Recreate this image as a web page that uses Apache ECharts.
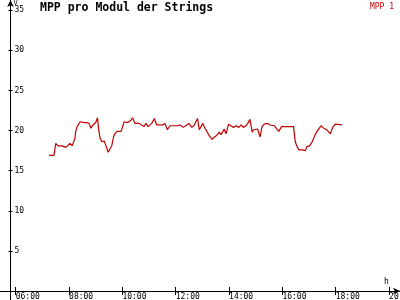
<!DOCTYPE html>
<html>
<head>
<meta charset="utf-8">
<script src="https://cdn.jsdelivr.net/npm/echarts@6/dist/echarts.min.js"></script>
<style>
html,body{margin:0;padding:0;background:#fff;}
#chart{width:400px;height:300px;}
</style>
</head>
<body>
<div id="chart"></div>
<script>
const titleText = "MPP pro Modul der Strings";
const seriesName = "MPP 1";
const times = ["07:15","07:26","07:30","07:35","07:44","07:53","07:56","08:02","08:07","08:13","08:15","08:18","08:25","08:29","08:34","08:40","08:45","08:49","08:54","09:00","09:04","09:05","09:07","09:10","09:14","09:19","09:21","09:25","09:28","09:32","09:36","09:40","09:43","09:48","09:57","10:00","10:04","10:12","10:19","10:23","10:28","10:32","10:38","10:43","10:49","10:53","10:58","11:06","11:12","11:17","11:22","11:31","11:36","11:41","11:47","11:54","12:03","12:10","12:17","12:25","12:30","12:36","12:41","12:49","12:53","13:01","13:04","13:08","13:14","13:22","13:27","13:32","13:38","13:42","13:49","13:53","13:59","14:04","14:10","14:16","14:22","14:27","14:32","14:38","14:42","14:47","14:52","14:55","14:59","15:04","15:10","15:14","15:19","15:27","15:32","15:42","15:46","15:52","15:58","16:25","16:29","16:33","16:37","16:44","16:48","16:52","16:55","17:01","17:07","17:13","17:18","17:23","17:27","17:33","17:40","17:48","17:53","17:59","18:14"];
const mpp1 = [16.9,16.9,18.4,18.1,18.1,17.9,17.9,18.4,18.1,19.0,19.9,20.5,21.1,21.2,21.0,21.0,20.9,20.3,20.7,21.0,21.6,21.0,20.0,19.0,18.6,18.7,18.4,17.8,17.3,17.5,18.1,19.2,19.6,19.9,19.9,20.4,21.1,21.0,21.3,21.6,20.9,21.0,20.9,20.7,20.5,20.9,20.5,20.9,21.5,20.7,20.7,20.7,20.9,20.1,20.6,20.6,20.6,20.7,20.4,20.7,20.9,20.4,20.6,21.5,20.1,20.9,20.5,20.1,19.5,18.9,19.2,19.4,19.8,19.5,20.2,19.6,20.8,20.6,20.4,20.6,20.4,20.7,20.4,20.6,20.9,21.4,19.8,20.1,20.2,20.2,19.2,20.5,20.8,20.9,20.7,20.6,20.6,19.9,20.5,20.5,18.6,18.0,17.6,17.6,17.5,17.5,18.0,18.1,18.6,19.4,19.9,20.3,20.6,20.3,20.1,19.6,20.4,20.8,20.7];
const xTickHours = [6,8,10,12,14,16,18,20];
const yTickValues = [5,10,15,20,25,30,35];

const toHours = t => { const p = t.split(":"); return +p[0] + (+p[1]) / 60; };
const fmtHour = v => (v < 10 ? "0" : "") + Math.round(v) + ":00";
const seriesData = times.map((t, i) => [toHours(t), mpp1[i]]);

const FONT = "DejaVu Sans Mono";
const X_MIN = 5.41, X_MAX = 20.41, Y_MIN = 0, Y_MAX = 36.28;
const AX = {color: '#000', width: 1};

const chart = echarts.init(document.getElementById('chart'), null, {renderer: 'canvas'});
chart.setOption({
  animation: false,
  backgroundColor: '#ffffff',
  title: {
    text: titleText, left: 40, top: 0, padding: [2, 0, 0, 0],
    textStyle: {fontFamily: FONT, fontSize: 11.5, fontWeight: 'bold', color: '#000'}
  },
  legend: {
    data: [seriesName], right: 6, top: 3, padding: 0,
    icon: 'none', itemWidth: 0, itemHeight: 8, itemGap: 0,
    textStyle: {fontFamily: FONT, fontSize: 8, color: '#c00000', padding: 0}
  },
  grid: [
    {left: 0, right: 0, top: 0, bottom: 9, containLabel: false, outerBoundsMode: 'none'},
    {left: 0, right: 0, top: 291, bottom: 0, containLabel: false, outerBoundsMode: 'none'}
  ],
  xAxis: [{
    gridIndex: 0, type: 'value', min: X_MIN, max: X_MAX, position: 'bottom',
    name: 'h', nameLocation: 'end', nameGap: -16,
    nameTextStyle: {fontFamily: FONT, fontSize: 8, color: '#000', align: 'left', verticalAlign: 'bottom', padding: [0, 0, 5, 0]},
    axisLine: {onZero: false, lineStyle: AX, symbol: ['none', 'arrow'], symbolSize: [5, 7]},
    axisTick: {show: true, customValues: xTickHours, length: 4, lineStyle: {color: '#000'}},
    axisLabel: {show: true, customValues: xTickHours, formatter: fmtHour, align: 'left', margin: 2,
      fontFamily: FONT, fontSize: 8, color: '#000'},
    splitLine: {show: false}
  }, {
    gridIndex: 0, type: 'value', min: X_MIN, max: X_MAX, position: 'bottom',
    axisLine: {show: false, onZero: false},
    axisTick: {show: true, inside: true, customValues: xTickHours, length: 4, lineStyle: {color: '#000'}},
    axisLabel: {show: false},
    splitLine: {show: false}
  }, {
    gridIndex: 1, type: 'value', min: X_MIN, max: X_MAX, show: false
  }],
  yAxis: [{
    gridIndex: 0, type: 'value', min: Y_MIN, max: Y_MAX, position: 'left', offset: -10.5,
    name: 'V', nameLocation: 'end', nameGap: 0,
    nameTextStyle: {fontFamily: FONT, fontSize: 7, color: '#000', align: 'left', verticalAlign: 'top', padding: [0, 0, 0, 3]},
    axisLine: {show: true, onZero: false, lineStyle: AX, symbol: ['none', 'arrow'], symbolSize: [5, 7]},
    axisTick: {show: true, customValues: yTickValues, length: 2, lineStyle: {color: '#000'}},
    axisLabel: {show: true, inside: true, customValues: yTickValues, margin: 4,
      fontFamily: FONT, fontSize: 8, color: '#000'},
    splitLine: {show: false}
  }, {
    gridIndex: 0, type: 'value', min: Y_MIN, max: Y_MAX, position: 'left', offset: -10.5,
    axisLine: {show: false, onZero: false},
    axisTick: {show: true, inside: true, customValues: yTickValues, length: 2, lineStyle: {color: '#000'}},
    axisLabel: {show: false},
    splitLine: {show: false}
  }, {
    gridIndex: 1, type: 'value', min: 0, max: 1, position: 'left', offset: -10.5,
    axisLine: {show: true, onZero: false, lineStyle: AX},
    axisTick: {show: false}, axisLabel: {show: false}, splitLine: {show: false}
  }],
  series: [{
    name: seriesName, type: 'line', xAxisIndex: 0, yAxisIndex: 0,
    data: seriesData, symbol: 'none', showSymbol: false,
    lineStyle: {color: '#c00000', width: 1.2}, itemStyle: {color: '#c00000'}
  }]
});
</script>
</body>
</html>
